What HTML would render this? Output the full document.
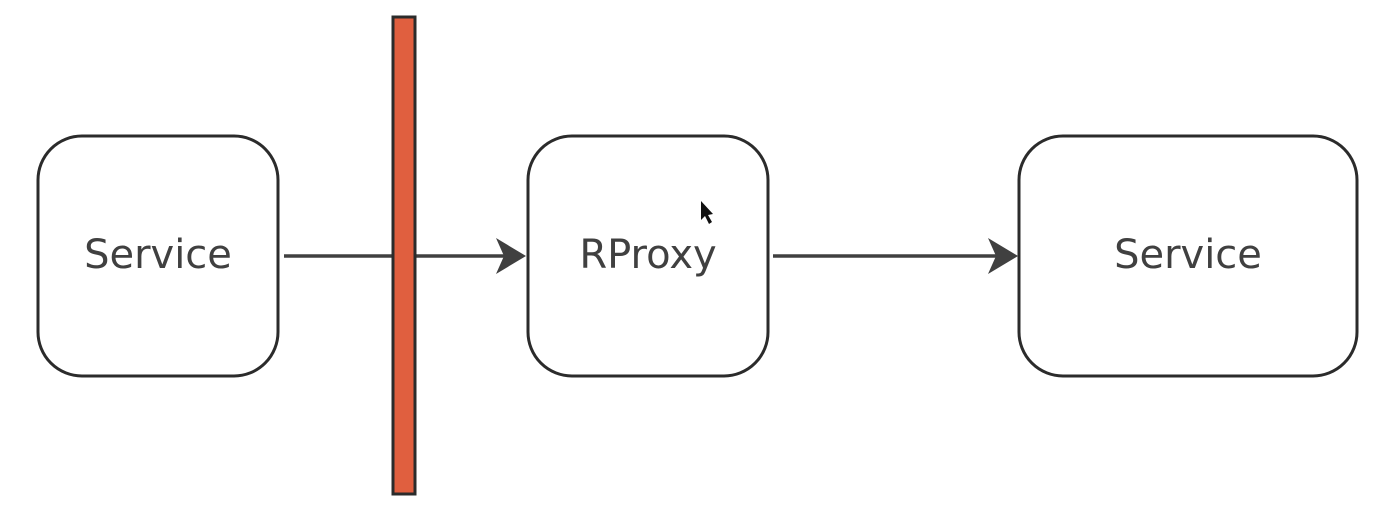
<!DOCTYPE html>
<html><head><style>body{margin:0;background:#fff}svg{display:block}</style></head><body>
<svg width="1394" height="526" viewBox="0 0 1394 526" xmlns="http://www.w3.org/2000/svg">
<g fill="#fff" stroke="#2b2b2b" stroke-width="3">
<rect x="38" y="136" width="240" height="240" rx="44"/>
<rect x="528" y="136" width="240" height="240" rx="44"/>
<rect x="1019" y="136" width="338" height="240" rx="44"/>
</g>
<g stroke="#404040" stroke-width="3.5">
<line x1="284" y1="256" x2="392" y2="256"/>
<line x1="415" y1="256" x2="505" y2="256"/>
<line x1="773" y1="256" x2="996" y2="256"/>
</g>
<g fill="#404040">
<path d="M526 256 L496 238 L504 256 L496 274 Z"/>
<path d="M1018 256 L988 238 L996 256 L988 274 Z"/>
</g>
<rect x="393" y="17" width="22" height="477" fill="#e05f3f" stroke="#2b2b2b" stroke-width="3"/>
<path d="M701 201 L701 220 L705 216 L709 224 L712 222 L708 215 L713 214 Z" fill="#111"/>
<g font-family="'DejaVu Sans','Liberation Sans',sans-serif" font-size="40" fill="#404040" text-anchor="middle">
<text x="158" y="268">Service</text>
<text x="648" y="268">RProxy</text>
<text x="1188" y="268">Service</text>
</g>
</svg>
</body></html>
